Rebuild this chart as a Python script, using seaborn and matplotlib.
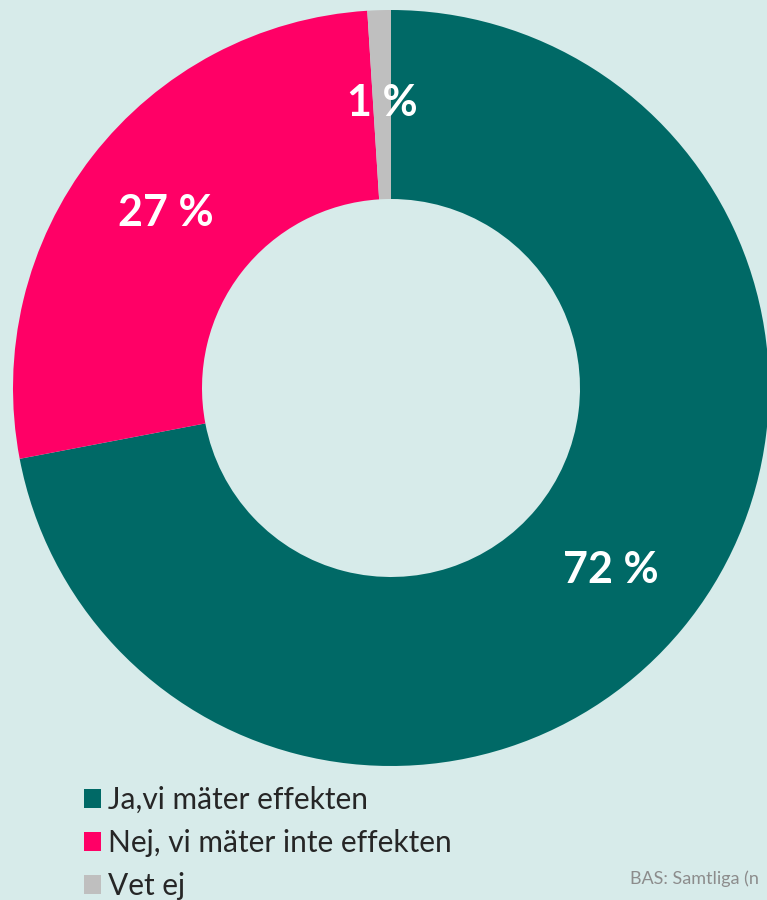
import matplotlib
matplotlib.use("Agg")
import matplotlib.pyplot as plt
from matplotlib.patches import Patch
import seaborn as sns

# Survey answers: do you measure the effect?
categories = ["Ja,vi mäter effekten", "Nej, vi mäter inte effekten", "Vet ej"]
shares = [72, 27, 1]
colors = ["#006966", "#ff0066", "#bfbfbf"]
base_note = "BAS: Samtliga (n"

bg = "#d7ebea"

sns.set_style("white")
plt.rcParams["font.family"] = ["Lato", "DejaVu Sans"]

fig = plt.figure(figsize=(7.67, 9.0), dpi=100, facecolor=bg)
W, H = 767, 900
cx, cy, r = 391, 388, 378
ax = fig.add_axes([(cx - r) / W, (H - cy - r) / H, 2 * r / W, 2 * r / H])
ax.set_facecolor(bg)

wedges, texts, autotexts = ax.pie(
    shares,
    colors=sns.color_palette(colors),
    startangle=90,
    counterclock=False,
    radius=1.0,
    wedgeprops=dict(width=0.5, edgecolor="none"),
    autopct=lambda p: f"{p:.0f} %",
    pctdistance=0.755,
    textprops=dict(color="white", fontsize=31, fontweight="bold"),
)
ax.set_xlim(-1, 1)
ax.set_ylim(-1, 1)
ax.set_aspect("equal")
ax.axis("off")

handles = [Patch(facecolor=c, edgecolor="none") for c in colors]
fig.legend(
    handles, categories,
    loc="upper left",
    bbox_to_anchor=(84 / W, 1 - 786 / H),
    frameon=False,
    fontsize=21.5,
    handlelength=0.58,
    handleheight=0.58,
    handletextpad=0.22,
    labelspacing=0.5,
    borderaxespad=0,
    borderpad=0,
)

fig.text(630 / W, 1 - 879 / H, base_note, color="#8c8c8c", fontsize=13,
         ha="left", va="center")

fig.savefig("out.png", dpi=100, facecolor=bg)
